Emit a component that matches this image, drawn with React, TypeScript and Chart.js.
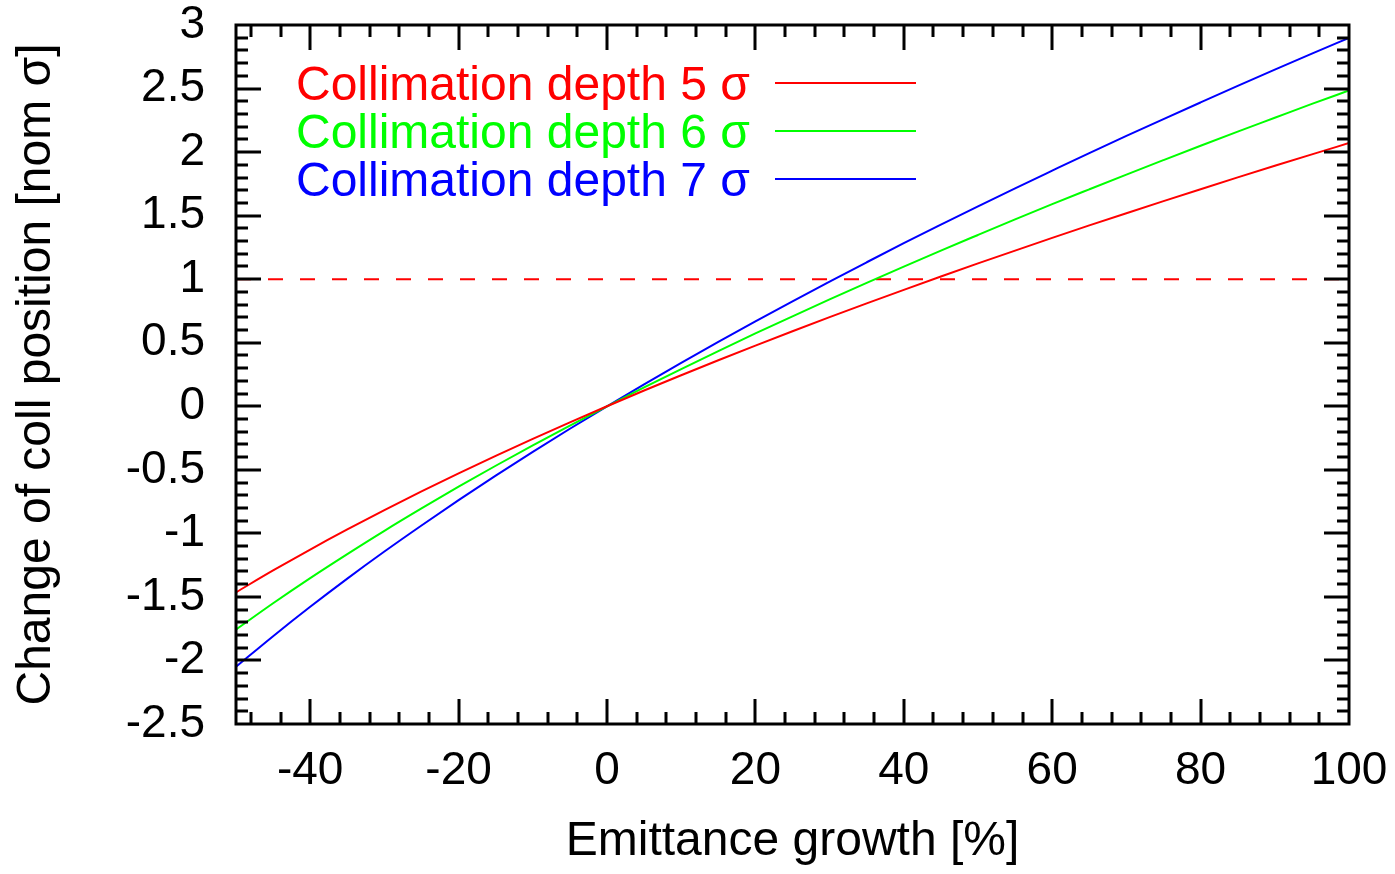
import React, { useEffect, useRef } from 'react';
import { Chart, registerables } from 'chart.js';

Chart.register(...registerables);

// Emittance growth [%]
const growth = [-50, -45, -40, -35, -30, -25, -20, -15, -10, -5, 0, 5, 10, 15, 20, 25, 30, 35, 40, 45, 50, 55, 60, 65, 70, 75, 80, 85, 90, 95, 100];

// Change of coll position [nom sigma]
const depth5 = [-1.464, -1.292, -1.127, -0.969, -0.817, -0.670, -0.528, -0.390, -0.257, -0.127, 0, 0.124, 0.244, 0.362, 0.477, 0.590, 0.701, 0.810, 0.916, 1.021, 1.124, 1.225, 1.325, 1.423, 1.519, 1.614, 1.708, 1.801, 1.892, 1.982, 2.071];
const depth6 = [-1.757, -1.550, -1.352, -1.163, -0.980, -0.804, -0.633, -0.468, -0.308, -0.152, 0, 0.148, 0.293, 0.434, 0.573, 0.708, 0.841, 0.971, 1.099, 1.225, 1.348, 1.470, 1.590, 1.707, 1.823, 1.937, 2.050, 2.161, 2.270, 2.379, 2.485];
const depth7 = [-2.050, -1.809, -1.578, -1.356, -1.143, -0.938, -0.739, -0.546, -0.359, -0.177, 0, 0.173, 0.342, 0.507, 0.668, 0.826, 0.981, 1.133, 1.283, 1.429, 1.573, 1.715, 1.854, 1.992, 2.127, 2.260, 2.391, 2.521, 2.649, 2.775, 2.899];

const seriesLabels = ['Collimation depth 5 σ', 'Collimation depth 6 σ', 'Collimation depth 7 σ'];
const seriesColors = ['#ff0000', '#00ff00', '#0000ff'];

const referenceLevel = 1;

const xTickValues = [-40, -20, 0, 20, 40, 60, 80, 100];
const yTickValues = [-2.5, -2, -1.5, -1, -0.5, 0, 0.5, 1, 1.5, 2, 2.5, 3];

const xTitle = 'Emittance growth [%]';
const yTitle = 'Change of coll position [nom σ]';

const FONT = "'Liberation Sans', Arial, Helvetica, sans-serif";

const framePlugin = {
  id: 'frameTicks',
  afterDatasetsDraw(chart: any) {
    const { ctx, chartArea } = chart;
    const { left, right, top, bottom } = chartArea;
    const xs = chart.scales.x;
    const ys = chart.scales.y;
    ctx.save();
    ctx.strokeStyle = '#000';
    ctx.lineWidth = 3;
    ctx.lineCap = 'butt';
    const major = 25;
    const minor = 12;
    // x ticks: minor every 4, major every 20
    for (let i = -12; i <= 25; i++) {
      const v = i * 4;
      if (v <= -50 || v >= 100) continue;
      const isMajor = v % 20 === 0;
      const len = isMajor ? major : minor;
      const px = Math.round(xs.getPixelForValue(v));
      ctx.beginPath();
      ctx.moveTo(px, bottom);
      ctx.lineTo(px, bottom - len);
      ctx.moveTo(px, top);
      ctx.lineTo(px, top + len);
      ctx.stroke();
    }
    // y ticks: minor every 0.1, major every 0.5
    for (let i = -25; i <= 30; i++) {
      const v = i / 10;
      if (i === -25 || i === 30) continue;
      const isMajor = i % 5 === 0;
      const len = isMajor ? major : minor;
      const py = Math.round(ys.getPixelForValue(v));
      ctx.beginPath();
      ctx.moveTo(left, py);
      ctx.lineTo(left + len, py);
      ctx.moveTo(right, py);
      ctx.lineTo(right - len, py);
      ctx.stroke();
    }
    ctx.strokeRect(left, top, right - left, bottom - top);

    // legend
    ctx.font = `48px ${FONT}`;
    ctx.textAlign = 'left';
    ctx.textBaseline = 'alphabetic';
    const rowY = [83, 131, 179];
    seriesLabels.forEach((lab, i) => {
      ctx.fillStyle = seriesColors[i];
      ctx.fillText(lab, 296, rowY[i] + 17);
      ctx.strokeStyle = seriesColors[i];
      ctx.lineWidth = 2;
      ctx.beginPath();
      ctx.moveTo(775, rowY[i]);
      ctx.lineTo(916, rowY[i]);
      ctx.stroke();
    });
    ctx.restore();
  },
};

export default function App() {
  const ref = useRef<HTMLCanvasElement | null>(null);

  useEffect(() => {
    if (!ref.current) return;
    const makeData = (ys: number[]) => growth.map((x, i) => ({ x, y: ys[i] }));
    const lineStyle = { borderWidth: 2, pointRadius: 0, cubicInterpolationMode: 'monotone', fill: false };
    const chart = new Chart(ref.current, {
      type: 'line',
      data: {
        datasets: [
          { label: seriesLabels[0], data: makeData(depth5), borderColor: seriesColors[0], ...lineStyle },
          { label: seriesLabels[1], data: makeData(depth6), borderColor: seriesColors[1], ...lineStyle },
          { label: seriesLabels[2], data: makeData(depth7), borderColor: seriesColors[2], ...lineStyle },
          {
            label: 'reference',
            data: [{ x: growth[0], y: referenceLevel }, { x: growth[growth.length - 1], y: referenceLevel }],
            borderColor: '#ff0000',
            borderWidth: 2,
            borderDash: [15, 17],
            pointRadius: 0,
            fill: false,
          },
        ],
      },
      options: {
        responsive: false,
        animation: false,
        layout: { padding: { left: 0, right: 46, top: 25, bottom: 0 } },
        plugins: { legend: { display: false }, tooltip: { enabled: false } },
        scales: {
          x: {
            type: 'linear',
            min: -50,
            max: 100,
            grid: { display: false, drawTicks: false },
            border: { display: false },
            afterBuildTicks: (s: any) => { s.ticks = xTickValues.map((v) => ({ value: v })); },
            afterFit: (s: any) => { s.height = 150; s.paddingLeft = 0; s.paddingRight = 0; },
            ticks: {
              color: '#000',
              font: { family: FONT, size: 46 },
              padding: 20,
              maxRotation: 0,
              autoSkip: false,
              callback: (v: any) => String(v),
            },
            title: {
              display: true,
              text: xTitle,
              color: '#000',
              font: { family: FONT, size: 48 },
              padding: { top: 0, bottom: 3 },
            },
          },
          y: {
            type: 'linear',
            min: -2.5,
            max: 3,
            grid: { display: false, drawTicks: false },
            border: { display: false },
            afterBuildTicks: (s: any) => { s.ticks = yTickValues.map((v) => ({ value: v })); },
            afterFit: (s: any) => { s.width = 236; s.paddingTop = 0; s.paddingBottom = 0; },
            ticks: {
              color: '#000',
              font: { family: FONT, size: 46 },
              padding: 31,
              autoSkip: false,
              callback: (v: any) => String(v),
            },
            title: {
              display: true,
              text: yTitle,
              color: '#000',
              font: { family: FONT, size: 48 },
              padding: { top: 8, bottom: 0 },
            },
          },
        },
      },
      plugins: [framePlugin],
    } as any);
    return () => chart.destroy();
  }, []);

  return (
    <div style={{ position: 'absolute', left: 0, top: 0, width: 1395, height: 874, background: '#fff' }}>
      <canvas ref={ref} width={1395} height={874} style={{ width: 1395, height: 874, display: 'block' }} />
    </div>
  );
}
